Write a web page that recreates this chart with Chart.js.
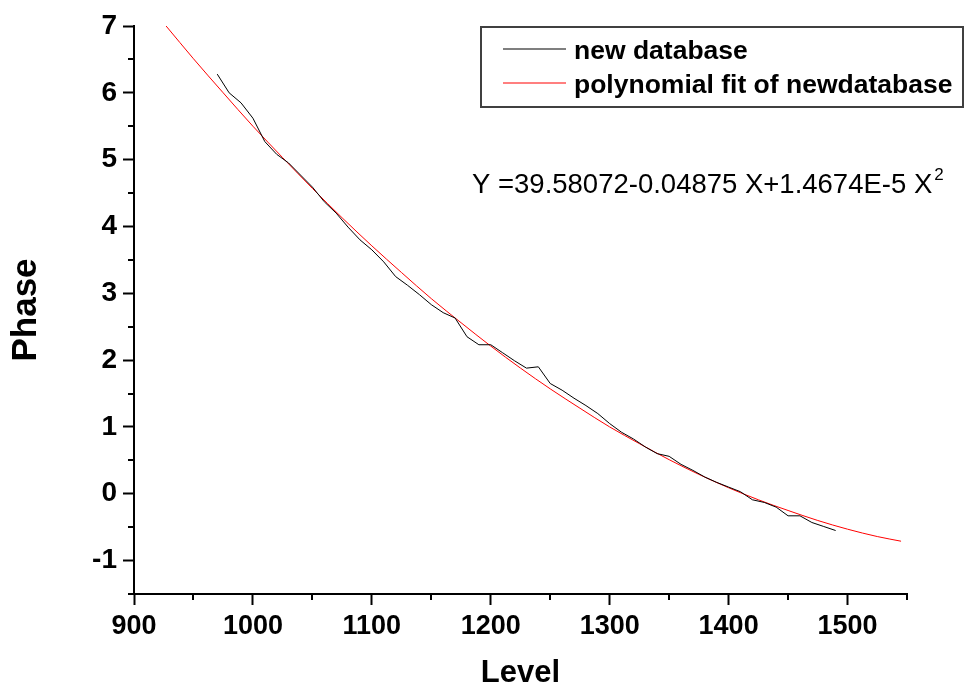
<!DOCTYPE html>
<html>
<head>
<meta charset="utf-8">
<script src="https://cdn.jsdelivr.net/npm/chart.js@4.4.0/dist/chart.umd.min.js"></script>
<style>
html, body { margin: 0; padding: 0; background: #fff; }
</style>
</head>
<body>
<canvas id="myChart" width="965" height="695"></canvas>
<script>
// values
var levels = [970, 980, 990,
  1000, 1010, 1020, 1030, 1040, 1050, 1060, 1070, 1080, 1090,
  1100, 1110, 1120, 1130, 1140, 1150, 1160, 1170, 1180, 1190,
  1200, 1210, 1220, 1230, 1240, 1250, 1260, 1270, 1280, 1290,
  1300, 1310, 1320, 1330, 1340, 1350, 1360, 1370, 1380, 1390,
  1400, 1410, 1420, 1430, 1440, 1450, 1460, 1470, 1480, 1490];
var phases = [6.28, 6.00, 5.85,
  5.62, 5.27, 5.08, 4.95, 4.77, 4.59, 4.37, 4.20, 3.99, 3.80,
  3.65, 3.47, 3.25, 3.12, 2.98, 2.83, 2.71, 2.63, 2.35, 2.23,
  2.23, 2.11, 1.99, 1.88, 1.90, 1.65, 1.55, 1.43, 1.32, 1.20,
  1.05, 0.92, 0.82, 0.70, 0.60, 0.56, 0.44, 0.35, 0.25, 0.17,
  0.10, 0.03, -0.09, -0.13, -0.20, -0.33, -0.33, -0.43, -0.49, -0.55];

var fitLevels = [927, 950, 975, 1000, 1025, 1050, 1075, 1100, 1125, 1150, 1175,
  1200, 1225, 1250, 1275, 1300, 1325, 1350, 1375, 1400, 1425, 1450, 1475,
  1500, 1525, 1545];
var fitPhases = [7.00, 6.51, 6.00, 5.50, 5.03, 4.57, 4.13, 3.71, 3.31, 2.92, 2.56,
  2.21, 1.88, 1.57, 1.28, 1.00, 0.75, 0.51, 0.29, 0.09, -0.09, -0.25, -0.40,
  -0.53, -0.64, -0.71];

var xTicks = [900, 1000, 1100, 1200, 1300, 1400, 1500];
var xMinor = [950, 1050, 1150, 1250, 1350, 1450, 1550];
var yTicks = [-1, 0, 1, 2, 3, 4, 5, 6, 7];
var yMinor = [-1.5, -0.5, 0.5, 1.5, 2.5, 3.5, 4.5, 5.5, 6.5];

var seriesNames = ["new database", "polynomial fit of newdatabase"];
var seriesColors = ["#000000", "#ff0000"];

var equation = "Y =39.58072-0.04875 X+1.4674E-5 X";
var equationSup = "2";

var FONT = "'Liberation Sans', Arial, sans-serif";
Chart.defaults.font.family = FONT;
Chart.defaults.color = "#000";

function toPoints(xs, ys) {
  var pts = [];
  for (var i = 0; i < xs.length; i++) {
    pts.push({x: xs[i], y: ys[i]});
  }
  return pts;
}

// small ticks between the labelled ones
var minorTicks = {
  id: "minorTicks",
  afterDraw: function(chart) {
    var ctx = chart.ctx;
    var area = chart.chartArea;
    var xs = chart.scales.x, ys = chart.scales.y;
    ctx.save();
    ctx.strokeStyle = "#000";
    ctx.lineWidth = 2;
    ctx.beginPath();
    for (var i = 0; i < xMinor.length; i++) {
      var px = Math.round(xs.getPixelForValue(xMinor[i]));
      ctx.moveTo(px, area.bottom);
      ctx.lineTo(px, area.bottom + 6);
    }
    for (var j = 0; j < yMinor.length; j++) {
      var py = Math.round(ys.getPixelForValue(yMinor[j]));
      ctx.moveTo(area.left - 6, py);
      ctx.lineTo(area.left, py);
    }
    ctx.stroke();
    ctx.restore();
  }
};

// boxed legend and the fit equation, as in the original figure
var boxLegend = {
  id: "boxLegend",
  afterDraw: function(chart) {
    var ctx = chart.ctx;
    ctx.save();
    ctx.strokeStyle = "#404040";
    ctx.lineWidth = 2;
    ctx.strokeRect(481, 27, 482, 80);
    for (var i = 0; i < seriesNames.length; i++) {
      var y = 49 + i * 34;
      ctx.beginPath();
      ctx.strokeStyle = seriesColors[i];
      ctx.lineWidth = 1.2;
      ctx.moveTo(503, y);
      ctx.lineTo(566, y);
      ctx.stroke();
      ctx.fillStyle = "#000";
      ctx.font = "bold 26.5px " + FONT;
      ctx.textBaseline = "alphabetic";
      ctx.fillText(seriesNames[i], 574, y + 10);
    }
    ctx.font = "27.5px " + FONT;
    ctx.fillText(equation, 472, 193);
    var w = ctx.measureText(equation).width;
    ctx.font = "17px " + FONT;
    ctx.fillText(equationSup, 472 + w + 2, 180);
    ctx.restore();
  }
};

var canvas = document.getElementById("myChart");
var ctx = canvas.getContext("2d");

var myChart = new Chart(ctx, {
  type: "scatter",
  data: {
    datasets: [{
      label: seriesNames[0],
      data: toPoints(levels, phases),
      showLine: true,
      borderColor: seriesColors[0],
      borderWidth: 1,
      pointRadius: 0,
      tension: 0,
      clip: false
    }, {
      label: seriesNames[1],
      data: toPoints(fitLevels, fitPhases),
      showLine: true,
      borderColor: seriesColors[1],
      borderWidth: 1,
      pointRadius: 0,
      cubicInterpolationMode: "monotone",
      clip: false
    }]
  },
  options: {
    responsive: false,
    animation: false,
    devicePixelRatio: 1,
    layout: { padding: { top: 26, right: 58, left: 0, bottom: 0 } },
    plugins: {
      legend: { display: false },
      tooltip: { enabled: false }
    },
    scales: {
      x: {
        type: "linear",
        position: "bottom",
        min: 900,
        max: 1550,
        afterBuildTicks: function(axis) {
          axis.ticks = xTicks.map(function(v) { return {value: v}; });
        },
        afterFit: function(axis) { axis.height = 101; },
        ticks: {
          font: { size: 27, weight: "bold" },
          padding: 5,
          maxRotation: 0,
          callback: function(v) { return String(v); }
        },
        grid: {
          drawOnChartArea: false,
          drawTicks: true,
          tickLength: 11,
          tickWidth: 2,
          tickColor: "#000"
        },
        border: { display: true, width: 2, color: "#000" },
        title: {
          display: true,
          text: "Level",
          font: { size: 31, weight: "bold" },
          padding: { top: 0, bottom: 3 }
        }
      },
      y: {
        type: "linear",
        position: "left",
        min: -1.5,
        max: 7,
        afterBuildTicks: function(axis) {
          axis.ticks = yTicks.map(function(v) { return {value: v}; });
        },
        afterFit: function(axis) { axis.width = 134; },
        ticks: {
          font: { size: 28, weight: "bold" },
          padding: 6,
          callback: function(v) { return String(v); }
        },
        grid: {
          drawOnChartArea: false,
          drawTicks: true,
          tickLength: 11,
          tickWidth: 2,
          tickColor: "#000"
        },
        border: { display: true, width: 2, color: "#000" },
        title: {
          display: true,
          text: "Phase",
          font: { size: 35, weight: "bold" },
          padding: { top: 5, bottom: 0 }
        }
      }
    }
  },
  plugins: [minorTicks, boxLegend]
});
</script>
</body>
</html>
